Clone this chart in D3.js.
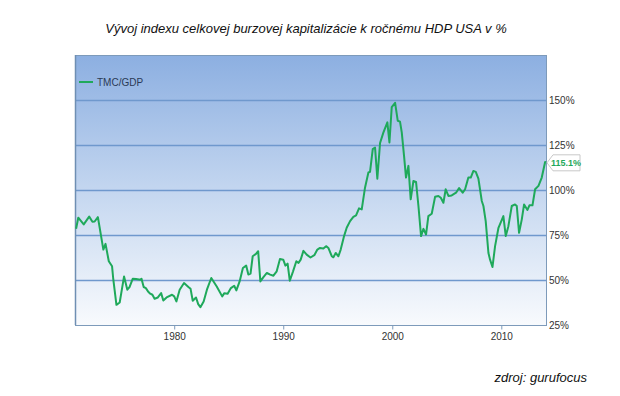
<!DOCTYPE html>
<html>
<head>
<meta charset="utf-8">
<script src="https://cdn.jsdelivr.net/npm/d3@7"></script>
<style>
  body { margin: 0; background: #fff; }
  svg { display: block; }
</style>
</head>
<body>
<svg></svg>
<script>
const WIDTH = 620;
const HEIGHT = 396;
const PLOT = {left: 75, right: 546, top: 55, bottom: 325};

// decimal years and TMC/GDP ratio (%)
const dates = [
  1971.0, 1971.2, 1971.7, 1972.2, 1972.5, 1972.7, 1973.0, 1973.5, 1973.7, 1974.0,
  1974.3, 1974.4, 1974.7, 1975.0, 1975.4, 1975.7, 1975.9, 1976.2, 1976.5, 1976.9,
  1977.0, 1977.2, 1977.4, 1977.6, 1977.8, 1978.0, 1978.2, 1978.5, 1978.8, 1979.0,
  1979.3, 1979.8, 1980.0, 1980.2, 1980.5, 1980.9, 1981.3, 1981.5, 1981.7, 1982.0,
  1982.2, 1982.4, 1982.7, 1983.0, 1983.4, 1983.9, 1984.4, 1984.6, 1984.9, 1985.2,
  1985.5, 1985.7, 1986.0, 1986.3, 1986.6, 1986.8, 1987.0, 1987.2, 1987.5, 1987.7,
  1987.9, 1988.2, 1988.5, 1988.8, 1989.1, 1989.4, 1989.7, 1990.0, 1990.2, 1990.4,
  1990.6, 1990.9, 1991.2, 1991.4, 1991.6, 1991.85, 1992.15, 1992.5, 1992.85, 1993.13,
  1993.37, 1993.68, 1993.93, 1994.14, 1994.45, 1994.6, 1994.81, 1995.06, 1995.27, 1995.58,
  1995.82, 1996.13, 1996.43, 1996.68, 1996.95, 1997.2, 1997.5, 1997.81, 1997.96, 1998.21,
  1998.42, 1998.63, 1998.88, 1999.19, 1999.55, 1999.74, 1999.95, 2000.26, 2000.5, 2000.71,
  2000.87, 2001.08, 2001.26, 2001.48, 2001.69, 2001.94, 2002.18, 2002.4, 2002.64, 2002.86,
  2003.1, 2003.31, 2003.62, 2003.93, 2004.23, 2004.45, 2004.69, 2004.9, 2005.15, 2005.45,
  2005.85, 2006.13, 2006.46, 2006.68, 2006.98, 2007.2, 2007.44, 2007.66, 2007.9, 2008.21,
  2008.36, 2008.57, 2008.82, 2008.97, 2009.19, 2009.43, 2009.74, 2010.19, 2010.41, 2010.65,
  2010.96, 2011.26, 2011.42, 2011.63, 2011.88, 2012.09, 2012.4, 2012.58, 2012.86, 2013.1,
  2013.41, 2013.71, 2014.02, 2014.1
];
const tmcGdp = [
  78.5, 84.6, 80.9, 85.2, 82.4, 82.5, 84.9, 66.9, 70.1, 60.4,
  57.6, 51.1, 36.2, 37.5, 52.0, 44.6, 46.1, 50.7, 50.6, 50.2,
  50.7, 46.1, 45.5, 43.6, 42.4, 41.8, 39.6, 40.3, 42.7, 38.6,
  40.3, 41.8, 40.9, 38.1, 44.6, 48.3, 46.1, 45.1, 38.5, 40.3,
  36.6, 34.9, 38.1, 44.6, 51.1, 46.4, 40.9, 42.7, 42.4, 45.5,
  46.8, 44.2, 49.2, 56.7, 58.0, 53.0, 53.5, 63.2, 64.5, 66.0,
  49.2, 51.7, 53.9, 53.0, 52.4, 54.8, 61.7, 61.3, 58.0, 59.1,
  49.6, 54.8, 60.4, 59.5, 61.3, 66.2, 64.1, 62.5, 63.8, 66.9,
  67.8, 67.5, 68.8, 67.8, 63.2, 62.6, 65.0, 63.2, 66.9, 74.4,
  79.0, 82.7, 85.1, 85.9, 89.8, 89.2, 101.3, 109.7, 110.1, 122.7,
  123.6, 106.3, 126.1, 132.0, 137.6, 126.4, 146.0, 148.4, 138.5, 138.0,
  132.0, 119.0, 106.9, 113.4, 94.8, 105.0, 104.5, 91.1, 74.4, 78.4,
  75.3, 85.5, 86.8, 96.3, 96.7, 95.7, 92.9, 100.4, 96.7, 97.0,
  98.5, 101.1, 98.5, 100.4, 106.9, 106.9, 110.6, 110.1, 106.3, 93.9,
  91.1, 82.7, 65.0, 61.3, 57.2, 68.8, 79.0, 85.5, 74.4, 79.9,
  91.1, 92.0, 91.1, 76.2, 83.7, 92.0, 88.9, 91.5, 91.5, 100.4,
  102.3, 106.9, 115.6, 115.1
];
const yearTicks = [1980, 1990, 2000, 2010];
const pctTicks = [25, 50, 75, 100, 125, 150];
const gridTicks = [50, 75, 100, 125, 150];
const seriesName = "TMC/GDP";
const lastLabel = "115.1%";

const LINE_COLOR = "#1fa95b";
const FONT = "'Liberation Sans', Arial, sans-serif";

var svg = d3.select("svg")
    .attr("width", WIDTH)
    .attr("height", HEIGHT)
    .attr("viewBox", `0 0 ${WIDTH} ${HEIGHT}`);

var x = d3.scaleLinear()
    .domain([1970.9, 2014.1])
    .range([PLOT.left, PLOT.right]);

var y = d3.scaleLinear()
    .domain([25, 175])
    .range([PLOT.bottom, PLOT.top]);

// background gradient
var grad = svg.append("defs").append("linearGradient")
    .attr("id", "bg")
    .attr("x1", 0).attr("y1", 0)
    .attr("x2", 0).attr("y2", 1);
grad.append("stop").attr("offset", "0%").attr("stop-color", "#8cafe1");
grad.append("stop").attr("offset", "55%").attr("stop-color", "#c9daf1");
grad.append("stop").attr("offset", "100%").attr("stop-color", "#f8fafd");

svg.append("rect")
    .attr("x", PLOT.left)
    .attr("y", PLOT.top)
    .attr("width", PLOT.right - PLOT.left)
    .attr("height", PLOT.bottom - PLOT.top)
    .attr("fill", "url(#bg)");

// grid lines
svg.append("g")
    .selectAll("line")
    .data(gridTicks)
    .join("line")
    .attr("x1", PLOT.left)
    .attr("x2", PLOT.right)
    .attr("y1", d => Math.round(y(d)) + 0.5)
    .attr("y2", d => Math.round(y(d)) + 0.5)
    .attr("stroke", "#6f98cd")
    .attr("stroke-width", 1.3);

// frame
svg.append("rect")
    .attr("x", PLOT.left + 0.5)
    .attr("y", PLOT.top + 0.5)
    .attr("width", PLOT.right - PLOT.left)
    .attr("height", PLOT.bottom - PLOT.top)
    .attr("fill", "none")
    .attr("stroke", "#7d9aba")
    .attr("stroke-width", 1);

svg.append("line")
    .attr("x1", PLOT.left + 0.5).attr("x2", PLOT.left + 0.5)
    .attr("y1", PLOT.top).attr("y2", PLOT.bottom)
    .attr("stroke", "#6f8fb3")
    .attr("stroke-width", 1.5);

// x axis
var xAxis = svg.append("g")
    .attr("transform", `translate(0,${PLOT.bottom + 0.5})`)
    .call(d3.axisBottom(x).tickValues(yearTicks).tickFormat(d3.format("d")).tickSize(4).tickPadding(3));
xAxis.select(".domain").remove();
xAxis.selectAll("line").attr("stroke", "#7d9aba");
xAxis.selectAll("text")
    .style("font-family", FONT)
    .style("font-size", "10px")
    .attr("fill", "#333");

// y axis on the right
var yAxis = svg.append("g")
    .attr("transform", `translate(${PLOT.right},0)`)
    .call(d3.axisRight(y).tickValues(pctTicks).tickFormat(d => d + "%").tickSize(0).tickPadding(3));
yAxis.select(".domain").remove();
yAxis.selectAll("text")
    .style("font-family", FONT)
    .style("font-size", "10px")
    .attr("fill", "#333");

// series line
var lineGenerator = d3.line()
    .x((d, i) => x(dates[i]))
    .y(d => y(d));

svg.append("path")
    .attr("d", lineGenerator(tmcGdp))
    .attr("fill", "none")
    .attr("stroke", LINE_COLOR)
    .attr("stroke-width", 2)
    .attr("stroke-linejoin", "round");

// last value flag
var lastY = y(tmcGdp[tmcGdp.length - 1]);
var flag = svg.append("g")
    .attr("transform", `translate(${PLOT.right + 1},${lastY})`);
flag.append("path")
    .attr("d", "M0,0 L6,-8 L33,-8 L33,8 L6,8 Z")
    .attr("fill", "#fff")
    .attr("stroke", "#c8c8c8");
flag.append("text")
    .attr("x", 19)
    .attr("y", 3)
    .attr("text-anchor", "middle")
    .style("font-family", FONT)
    .style("font-size", "9px")
    .style("font-weight", "bold")
    .attr("fill", LINE_COLOR)
    .text(lastLabel);

// legend
svg.append("line")
    .attr("x1", 79).attr("x2", 93)
    .attr("y1", 82).attr("y2", 82)
    .attr("stroke", LINE_COLOR)
    .attr("stroke-width", 2);
svg.append("text")
    .attr("x", 97)
    .attr("y", 85.5)
    .style("font-family", FONT)
    .style("font-size", "10px")
    .attr("fill", "#2b3a55")
    .text(seriesName);

// title and source
svg.append("text")
    .attr("x", 306)
    .attr("y", 33)
    .attr("text-anchor", "middle")
    .style("font-family", FONT)
    .style("font-size", "13px")
    .style("font-style", "italic")
    .attr("fill", "#111")
    .text("Vývoj indexu celkovej burzovej kapitalizácie k ročnému HDP USA v %");

svg.append("text")
    .attr("x", 587)
    .attr("y", 382)
    .attr("text-anchor", "end")
    .style("font-family", FONT)
    .style("font-size", "13px")
    .style("font-style", "italic")
    .attr("fill", "#111")
    .text("zdroj: gurufocus");
</script>
</body>
</html>
